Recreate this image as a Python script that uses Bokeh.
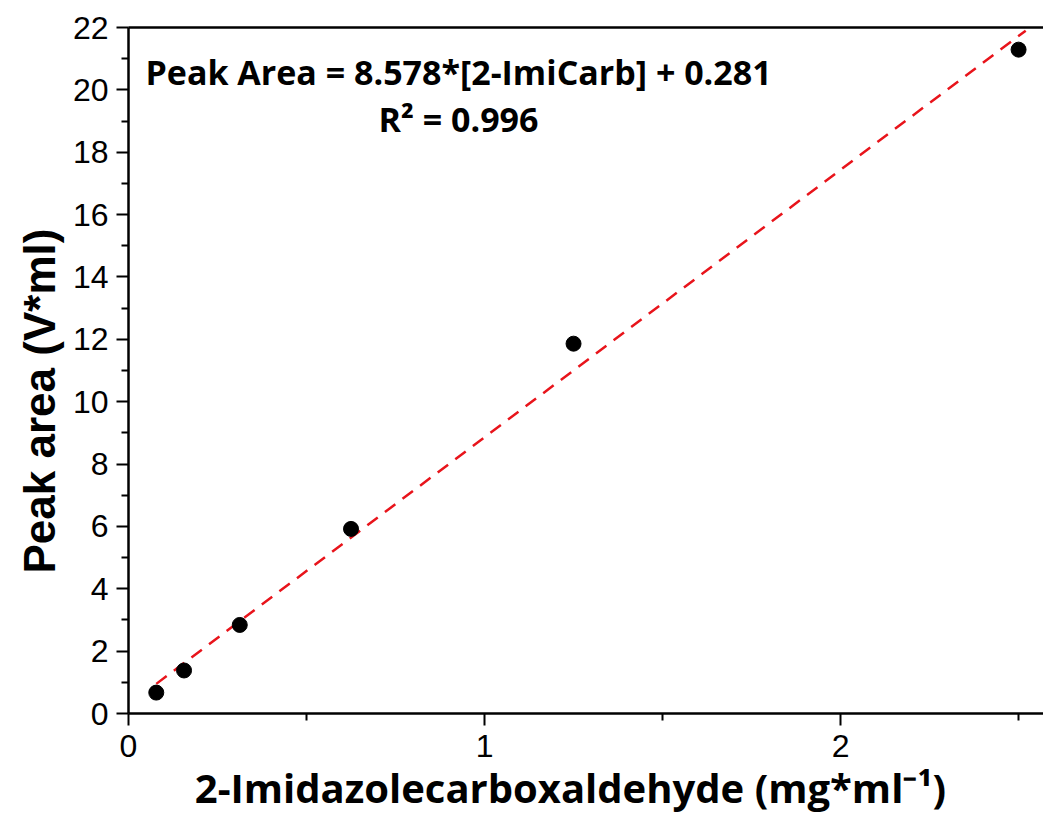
from bokeh.plotting import figure
from bokeh.models import FixedTicker, LinearAxis, Label, Range1d
from bokeh.embed import file_html
from bokeh.resources import INLINE

# data
conc = [0.078, 0.156, 0.3125, 0.625, 1.25, 2.5]
area = [0.67, 1.38, 2.84, 5.92, 11.86, 21.29]
slope = 8.578
intercept = 0.281
r2 = 0.996
fit_x = [0.078, 2.52]
fit_y = [slope * v + intercept for v in fit_x]
x_ticks = [0, 1, 2]
x_minor = [0.5, 1.5, 2.5]
y_ticks = list(range(0, 23, 2))
y_minor = list(range(1, 22, 2))

p = figure(width=1043, height=822, output_backend="svg", toolbar_location=None,
           x_range=Range1d(0, 2.570), y_range=Range1d(0, 22),
           min_border_left=128, min_border_right=0, min_border_top=27, min_border_bottom=109)
p.outline_line_color = None
p.grid.visible = False
p.background_fill_color = "white"
p.border_fill_color = "white"

for ax in [p.xaxis[0], p.yaxis[0]]:
    ax.axis_line_width = 2.5
    ax.axis_line_color = "black"
    ax.major_tick_line_width = 2
    ax.minor_tick_line_width = 2
    ax.major_tick_out = 12
    ax.major_tick_in = 0
    ax.minor_tick_out = 7
    ax.minor_tick_in = 0
    ax.major_label_text_font = "Liberation Sans"
    ax.major_label_text_font_size = "32px"
    ax.major_label_text_color = "black"
    ax.axis_label_text_color = "black"
    ax.axis_label_text_font_style = "bold"

p.xaxis[0].ticker = FixedTicker(ticks=x_ticks, minor_ticks=x_minor)
p.yaxis[0].ticker = FixedTicker(ticks=y_ticks, minor_ticks=y_minor)
p.xaxis[0].major_label_standoff = 9
p.yaxis[0].major_label_standoff = 8

# trailing no-break spaces shift the labels to where the reference has them
p.xaxis[0].axis_label = "2-Imidazolecarboxaldehyde (mg*ml\u207b\u00b9)" + "\u00a0" * 3
p.xaxis[0].axis_label_text_font = "Open Sans"
p.xaxis[0].axis_label_text_font_size = "40px"
p.xaxis[0].axis_label_standoff = 0

p.yaxis[0].axis_label = "Peak area (V*ml)" + "\u00a0" * 5
p.yaxis[0].axis_label_text_font = "Liberation Sans"
p.yaxis[0].axis_label_text_font_size = "44px"
p.yaxis[0].axis_label_standoff = 6

top = LinearAxis(ticker=FixedTicker(ticks=[]), major_label_text_font_size="0px",
                 axis_line_width=2.5, axis_line_color="black",
                 major_tick_line_color=None, minor_tick_line_color=None)
p.add_layout(top, "above")

p.line(fit_x, fit_y, line_color="#e8141b", line_width=2.5, line_dash="13 9")
p.scatter(conc, area, size=15, fill_color="black", line_color="black")

p.add_layout(Label(x=0.927, y=20.56, text="Peak Area = %.3f*[2-ImiCarb] + %.3f" % (slope, intercept),
                   text_align="center", text_baseline="alphabetic",
                   text_font="Open Sans", text_font_style="bold", text_font_size="34px", text_color="black"))
p.add_layout(Label(x=0.927, y=19.08, text="R\u00b2 = %.3f" % r2,
                   text_align="center", text_baseline="alphabetic",
                   text_font="Open Sans", text_font_style="bold", text_font_size="34px", text_color="black"))

open("out.html", "w").write(file_html(p, INLINE))
